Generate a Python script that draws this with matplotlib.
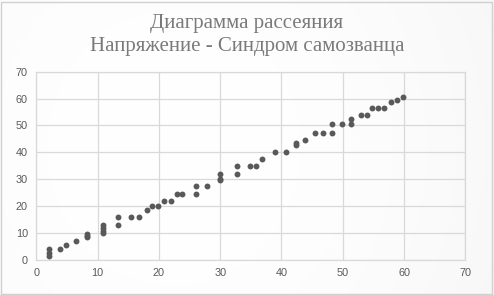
import matplotlib.pyplot as plt
import numpy as np

# Напряжение (x) и Синдром самозванца (y)
stress = [2, 2, 2, 3.9, 4.9, 6.4, 8.3, 8.3, 8.3, 10.9, 10.9, 10.9, 10.9,
          13.4, 13.4, 15.4, 16.8, 18.0, 18.9, 19.9, 20.9, 21.9, 22.9, 23.8,
          26.0, 26.0, 27.9, 29.9, 29.9, 29.9, 32.8, 32.8, 34.9, 35.9, 36.9,
          38.9, 40.8, 42.3, 42.3, 43.9, 45.4, 46.8, 48.3, 48.3, 49.8, 51.4,
          51.4, 52.9, 53.9, 54.8, 55.8, 56.8, 57.8, 58.8, 59.9]
impostor = [4.0, 2.7, 1.4, 4.0, 5.5, 6.9, 9.7, 8.9, 8.4, 13.0, 11.8, 10.9, 10.2,
            15.9, 12.9, 15.9, 15.9, 18.5, 20.0, 20.0, 21.8, 21.8, 24.4, 24.4,
            27.4, 24.4, 27.4, 31.8, 30.1, 29.9, 34.8, 31.8, 34.8, 34.8, 37.5,
            40.1, 40.1, 43.4, 42.6, 44.5, 47.1, 47.1, 50.4, 47.1, 50.4, 52.3,
            50.4, 53.8, 53.8, 56.4, 56.4, 56.4, 58.6, 59.4, 60.5]
ticks = [0, 10, 20, 30, 40, 50, 60, 70]

title = "Диаграмма рассеяния\nНапряжение - Синдром самозванца"
grid_col = "#d9d9d9"
text_col = "#595959"

fig = plt.figure(figsize=(4.94, 2.95), dpi=100)

# лёгкий градиент фона на отдельной оси
bg_ax = fig.add_axes([0, 0, 1, 1], zorder=0)
h, w = 295, 494
yy, xx = np.mgrid[0:h, 0:w]
shade = 1.0 - 0.06 * ((xx / w - 0.35) ** 2 + (yy / h - 0.5) ** 2 * 0.3)
shade = np.clip(shade, 0.93, 1.0)
bg_ax.imshow(np.dstack([shade, shade, shade]), aspect="auto",
             extent=[0, 1, 0, 1])
bg_ax.set_xlim(0, 1)
bg_ax.set_ylim(0, 1)
bg_ax.axis("off")

# рамка вокруг диаграммы
border = plt.Rectangle((0.002, 0.004), 0.994, 0.99, transform=fig.transFigure,
                       fill=False, edgecolor="#d0d0d0", linewidth=1, zorder=5)
fig.add_artist(border)

ax = fig.add_axes([0.0735, 0.1186, 0.8685, 0.6384], zorder=1)
ax.set_facecolor("none")
ax.scatter(stress, impostor, s=18, color=text_col, zorder=3, linewidths=0)

ax.set_xlim(0, 70)
ax.set_ylim(0, 70)
ax.set_xticks(ticks)
ax.set_yticks(ticks)
ax.grid(True, color=grid_col, linewidth=0.9)
for sp in ax.spines.values():
    sp.set_color(grid_col)
    sp.set_linewidth(0.9)
ax.tick_params(length=0, labelsize=7.8, labelcolor=text_col, pad=6)
for lab in ax.get_xticklabels() + ax.get_yticklabels():
    lab.set_family("Liberation Sans")

fig.text(0.5, 0.882, title, ha="center", va="center", fontsize=15,
         family="Liberation Serif", color="#7a7a7a", linespacing=1.3,
         zorder=2)

fig.savefig("out.png", dpi=100)
